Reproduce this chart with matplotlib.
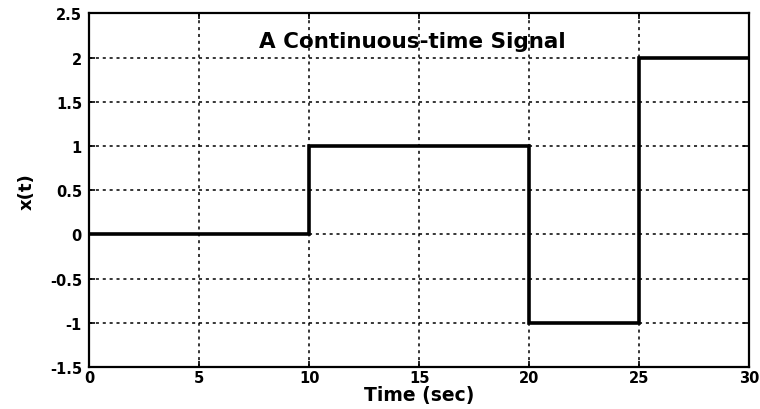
import matplotlib
matplotlib.use("Agg")
import matplotlib.pyplot as plt

# Step edges and levels of the signal
t_edges = [0, 10, 20, 25, 30]
levels = [0, 1, -1, 2]
x_ticks = [0, 5, 10, 15, 20, 25, 30]
y_ticks = [-1.5, -1, -0.5, 0, 0.5, 1, 1.5, 2, 2.5]
y_tick_labels = ["-1.5", "-1", "-0.5", "0", "0.5", "1", "1.5", "2", "2.5"]

plt.rcParams['font.family'] = ['DejaVu Sans']

fig = plt.figure(figsize=(7.6, 4.1), dpi=100)
ax = fig.add_axes([0.117, 0.102, 0.869, 0.863])

xs = []
ys = []
for i, lv in enumerate(levels):
    xs += [t_edges[i], t_edges[i + 1]]
    ys += [lv, lv]
ax.plot(xs, ys, color='black', linewidth=2.6, solid_joinstyle='miter')

ax.set_xlim(0, 30)
ax.set_ylim(-1.5, 2.5)
ax.set_xticks(x_ticks)
ax.set_xticklabels([str(v) for v in x_ticks], fontweight='bold', fontsize=10.5)
ax.set_yticks(y_ticks)
ax.set_yticklabels(y_tick_labels, fontweight='bold', fontsize=10.5)
ax.tick_params(direction='in', top=True, right=True, length=4, width=1.2)
ax.tick_params(axis='y', pad=5)
ax.tick_params(axis='x', pad=2)
ax.grid(True, linestyle=(0, (2, 2.5)), color='black', linewidth=1.1)
for s in ax.spines.values():
    s.set_linewidth(1.6)

ax.text(14.7, 2.19, 'A Continuous-time Signal', ha='center', va='center',
        fontweight='bold', fontsize=15.5)
ax.set_xlabel('Time (sec)', fontweight='bold', fontsize=13.5, labelpad=0)
ax.set_ylabel('x(t)', fontweight='bold', fontsize=13, labelpad=10)

fig.savefig('out.png', dpi=100)
